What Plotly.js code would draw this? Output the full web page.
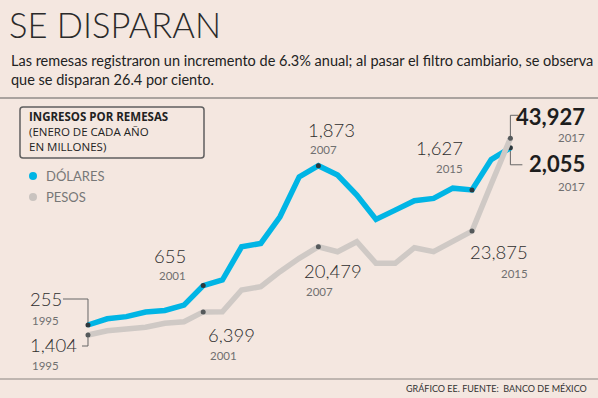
<!DOCTYPE html>
<html>
<head>
<meta charset="utf-8">
<script src="https://cdn.plot.ly/plotly-3.0.1.min.js"></script>
<style>html,body{margin:0;padding:0;background:#f4e7e0;}#chart{width:598px;height:398px;}</style>
</head>
<body>
<div id="chart"></div>
<script>
// ---- data ----
const years = [1995,1996,1997,1998,1999,2000,2001,2002,2003,2004,2005,2006,2007,2008,2009,2010,2011,2012,2013,2014,2015,2016,2017];
const dolares = [255,318,340,387,403,457,655,712,1049,1084,1354,1760,1873,1778,1574,1328,1422,1517,1541,1645,1627,1935,2055];
const pesos = [1404,2335,2702,3070,3934,4280,6399,6442,11133,11846,15089,17985,20479,19412,21574,16905,16905,20277,19412,21574,23875,34000,43927];
const labeledYears = [1995,2001,2007,2015,2017];
const seriesNames = ['DÓLARES','PESOS'];

// ---- helpers ----
const W = 598, H = 398;
const X = px => px / W;
const Y = py => 1 - py / H;
const BG = '#f4e7e0';
const BLUE = '#00b5e5';
const GRAY = '#cfc9c5';
const DOT = '#2b383d';
const NUMF = 'Lato, Roboto, sans-serif';
const TXT = '#2e2e2e';

const valOf = (arr, yr) => arr[years.indexOf(yr)];

const traces = [
  {x: years, y: pesos, yaxis: 'y2', mode: 'lines', line: {color: GRAY, width: 5.5}, name: seriesNames[1], showlegend: false, hoverinfo: 'skip'},
  {x: years, y: dolares, yaxis: 'y', mode: 'lines', line: {color: BLUE, width: 5.5}, name: seriesNames[0], showlegend: false, hoverinfo: 'skip'},
  {x: labeledYears, y: labeledYears.map(v => valOf(pesos, v)), yaxis: 'y2', mode: 'markers', marker: {color: '#55595b', size: 5}, showlegend: false, hoverinfo: 'skip'},
  {x: labeledYears, y: labeledYears.map(v => valOf(dolares, v)), yaxis: 'y', mode: 'markers', marker: {color: DOT, size: 5}, showlegend: false, hoverinfo: 'skip'}
];

// label placement: [year, series, xanchor, xshift, yshift(num), yshift(year), bold]
const labelSpec = [
  [1995, 'd', 'left', -60, 26, 5, false],
  [1995, 'p', 'left', -60, -10, -30, false],
  [2001, 'd', 'right', -15, 30, 10, false],
  [2001, 'p', 'left', 3, -23, -44, false],
  [2007, 'd', 'left', -12, 36, 16, false],
  [2007, 'p', 'left', -16, -24, -45, false],
  [2015, 'd', 'right', -7, 42, 21, false],
  [2015, 'p', 'right', 58, -21, -42, false],
  [2017, 'p', 'right', 77, 22, 1, true],
  [2017, 'd', 'right', 77, -16, -39, true]
];

const annotations = [];
labelSpec.forEach(s => {
  const [yr, ser, xa, xs, ysN, ysY, bold] = s;
  const v = ser === 'd' ? valOf(dolares, yr) : valOf(pesos, yr);
  const yref = ser === 'd' ? 'y' : 'y2';
  const txt = v.toLocaleString('en-US');
  annotations.push({x: yr, y: v, xref: 'x', yref: yref, text: txt,
    showarrow: false, xanchor: xa, yanchor: 'middle', xshift: xs, yshift: ysN,
    font: {family: NUMF, size: bold ? 22 : 18.5, weight: bold ? 700 : 300, color: bold ? '#1e1e1e' : TXT}});
  annotations.push({x: yr, y: v, xref: 'x', yref: yref, text: String(yr),
    showarrow: false, xanchor: xa, yanchor: 'middle', xshift: xs + (xa === 'left' ? 2 : 0), yshift: ysY,
    font: {family: NUMF, size: 11.5, color: '#707070'}});
});

// header / footer / legend texts
annotations.push(
  {xref: 'paper', yref: 'paper', x: X(7), y: Y(25), xanchor: 'left', yanchor: 'middle', showarrow: false,
   text: 'SE DISPARAN', font: {family: 'Lato, sans-serif', size: 34.5, weight: 300, color: '#2a2a2a'}},
  {xref: 'paper', yref: 'paper', x: X(9), y: Y(70), xanchor: 'left', yanchor: 'middle', showarrow: false, align: 'left',
   text: 'Las remesas registraron un incremento de 6.3% anual; al pasar el filtro cambiario, se observa<br>que se disparan 26.4 por ciento.',
   font: {family: NUMF, size: 14.5, color: '#222'}},
  {xref: 'paper', yref: 'paper', x: X(27), y: Y(131.5), xanchor: 'left', yanchor: 'middle', showarrow: false, align: 'left',
   text: '<b>INGRESOS POR REMESAS</b><br>(ENERO DE CADA AÑO<br>EN MILLONES)',
   font: {family: 'Open Sans, sans-serif', size: 11.5, color: '#222'}},
  {xref: 'paper', yref: 'paper', x: X(44), y: Y(176), xanchor: 'left', yanchor: 'middle', showarrow: false,
   text: seriesNames[0], font: {family: 'Lato, sans-serif', size: 13, color: '#777'}},
  {xref: 'paper', yref: 'paper', x: X(44), y: Y(197), xanchor: 'left', yanchor: 'middle', showarrow: false,
   text: seriesNames[1], font: {family: 'Lato, sans-serif', size: 13, color: '#777'}},
  {xref: 'paper', yref: 'paper', x: X(589), y: Y(388), xanchor: 'right', yanchor: 'middle', showarrow: false,
   text: 'GRÁFICO EE. FUENTE:\u00a0 BANCO DE MÉXICO', font: {family: NUMF, size: 9, color: '#333'}}
);

// box with rounded corners
function roundRect(x0, y0, x1, y1, r) {
  const p = (a, b) => X(a) + ',' + Y(b);
  return 'M' + p(x0 + r, y0) + ' L' + p(x1 - r, y0) + ' Q' + p(x1, y0) + ' ' + p(x1, y0 + r) +
    ' L' + p(x1, y1 - r) + ' Q' + p(x1, y1) + ' ' + p(x1 - r, y1) +
    ' L' + p(x0 + r, y1) + ' Q' + p(x0, y1) + ' ' + p(x0, y1 - r) +
    ' L' + p(x0, y0 + r) + ' Q' + p(x0, y0) + ' ' + p(x0 + r, y0) + ' Z';
}

const bracket = (yr, ser, path) => ({
  type: 'path', xref: 'x', yref: ser === 'd' ? 'y' : 'y2',
  xsizemode: 'pixel', ysizemode: 'pixel', xanchor: yr,
  yanchor: ser === 'd' ? valOf(dolares, yr) : valOf(pesos, yr),
  path: path, line: {color: '#666', width: 1}, layer: 'below'
});

const shapes = [
  {type: 'line', xref: 'paper', yref: 'paper', x0: 0, x1: 1, y0: Y(98), y1: Y(98), line: {color: '#aaa39f', width: 2}},
  {type: 'line', xref: 'paper', yref: 'paper', x0: 0, x1: 1, y0: Y(379), y1: Y(379), line: {color: '#8a8480', width: 1}},
  {type: 'path', xref: 'paper', yref: 'paper', path: roundRect(20, 107, 204, 158, 3), line: {color: '#5f5f5f', width: 1.5}},
  {type: 'circle', xref: 'paper', yref: 'paper', x0: X(29), x1: X(37), y0: Y(172), y1: Y(180), fillcolor: BLUE, line: {width: 0}},
  {type: 'circle', xref: 'paper', yref: 'paper', x0: X(29), x1: X(37), y0: Y(193), y1: Y(201), fillcolor: '#c9c3bf', line: {width: 0}},
  bracket(1995, 'd', 'M0,0L0,26L-25,26'),
  bracket(1995, 'p', 'M0,0L0,-11L-6,-11'),
  bracket(2017, 'p', 'M0,0L0,23L8,23'),
  bracket(2017, 'd', 'M0,0L0,-17L12,-17')
];

const layout = {
  width: W, height: H,
  margin: {l: 0, r: 0, t: 0, b: 0, pad: 0},
  paper_bgcolor: BG, plot_bgcolor: BG,
  showlegend: false,
  xaxis: {range: [1990.417, 2021.563], visible: false, fixedrange: true},
  yaxis: {range: [-486.5, 3556.1], visible: false, fixedrange: true},
  yaxis2: {range: [-12214, 73822], overlaying: 'y', visible: false, fixedrange: true},
  annotations: annotations,
  shapes: shapes
};

Plotly.newPlot('chart', traces, layout, {displayModeBar: false, staticPlot: true});
</script>
</body>
</html>
